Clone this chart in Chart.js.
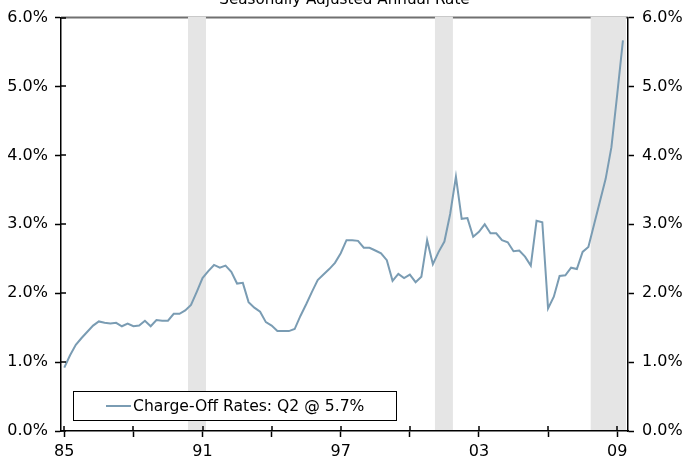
<!DOCTYPE html>
<html><head><meta charset="utf-8">
<script src="https://cdn.jsdelivr.net/npm/chart.js@4"></script>
<style>html,body{margin:0;padding:0;background:#fff;overflow:hidden}#wrap{width:683px;height:463px;position:relative}</style>
</head><body><div id="wrap"><canvas id="c" width="683" height="463"></canvas></div>
<script>
const startYear = 1985;
const quartersPerYear = 4;
const chargeOffRates = [
  0.92,1.10,1.25,1.35, 1.44,1.53,1.59,1.57, 1.56,1.57,1.52,1.56, 1.52,1.53,1.60,1.52,
  1.61,1.60,1.60,1.70, 1.70,1.75,1.83,2.02, 2.22,2.32,2.41,2.37, 2.40,2.31,2.14,2.15,
  1.87,1.79,1.73,1.58, 1.53,1.45,1.45,1.45, 1.48,1.67,1.84,2.02, 2.19,2.27,2.35,2.44,
  2.58,2.77,2.77,2.76, 2.66,2.66,2.62,2.58, 2.48,2.18,2.28,2.22, 2.27,2.16,2.24,2.77,
  2.42,2.60,2.75,3.15, 3.69,3.08,3.09,2.82, 2.89,3.00,2.87,2.87, 2.77,2.74,2.61,2.62,
  2.53,2.40,3.05,3.03, 1.78,1.95,2.25,2.26, 2.37,2.35,2.60,2.67, 3.00,3.33,3.66,4.12,
  4.88,5.67
];
const recessions = [[1990.37,1991.15],[2001.09,2001.87],[2007.85,2009.38]];
const xTickYears = [1985,1988,1991,1994,1997,2000,2003,2006,2009];
const xLabelYears = [1985,1991,1997,2003,2009];
const yTicks = [0,1,2,3,4,5,6];
const titleText = 'Seasonally Adjusted Annual Rate';
const legendText = 'Charge-Off Rates: Q2 @ 5.7%';

const lineColor = '#7a9cb3';
const FONT = '"DejaVu Sans", Verdana, sans-serif';

const points = chargeOffRates.map((v,i)=>({x: startYear + i/quartersPerYear, y: v}));

const decor = {
  id:'decor',
  beforeDatasetsDraw(chart){
    const {ctx, chartArea:a, scales:{x}} = chart;
    ctx.save();
    ctx.strokeStyle = '#707070'; ctx.lineWidth = 2;
    ctx.beginPath(); ctx.moveTo(a.left, a.top); ctx.lineTo(a.right, a.top); ctx.stroke();
    ctx.fillStyle = '#e5e5e5';
    recessions.forEach(([s,e])=>{
      const x0 = x.getPixelForValue(s), x1 = x.getPixelForValue(e);
      ctx.fillRect(x0, a.top-1, x1-x0, a.bottom - a.top);
    });
    ctx.restore();
  },
  afterDraw(chart){
    const {ctx, chartArea:a, scales:{x,y}} = chart;
    ctx.save();
    ctx.strokeStyle = '#000'; ctx.lineWidth = 1.5;
    ctx.beginPath();
    yTicks.forEach(v=>{
      const py = Math.round(y.getPixelForValue(v));
      ctx.moveTo(a.left, py); ctx.lineTo(a.left+5, py);
      ctx.moveTo(a.right, py); ctx.lineTo(a.right-1, py);
    });
    xTickYears.forEach(v=>{
      const px = Math.round(x.getPixelForValue(v));
      ctx.moveTo(px, a.bottom); ctx.lineTo(px, a.bottom-5);
    });
    ctx.stroke();
    // legend box
    const bx=73.5, by=391.5, bw=323, bh=29;
    ctx.fillStyle='#fff'; ctx.fillRect(bx,by,bw,bh);
    ctx.strokeStyle='#000'; ctx.lineWidth=1; ctx.strokeRect(bx,by,bw,bh);
    ctx.strokeStyle=lineColor; ctx.lineWidth=2;
    ctx.beginPath(); ctx.moveTo(106, by+bh/2); ctx.lineTo(131, by+bh/2); ctx.stroke();
    ctx.fillStyle='#000'; ctx.font='15.6px '+FONT; ctx.textBaseline='middle'; ctx.textAlign='left';
    ctx.fillText(legendText, 133, by+bh/2+1);
    // title (clipped at top)
    ctx.font='15.2px '+FONT;
    ctx.textAlign='center'; ctx.textBaseline='alphabetic';
    ctx.fillText(titleText, (a.left+a.right)/2, 4);
    ctx.restore();
  }
};

const axisCommon = {
  grid:{display:true, drawOnChartArea:false, drawTicks:true, tickLength:6, tickColor:'#000', tickWidth:1.5},
  border:{display:true, color:'#000', width:1.5}
};

new Chart(document.getElementById('c'), {
  type:'line',
  data:{datasets:[{label:legendText, data:points, borderColor:lineColor, borderWidth:2, pointRadius:0, tension:0, fill:false}]},
  options:{
    responsive:false, animation:false, devicePixelRatio:1,
    layout:{padding:{top:15, left:0, right:0, bottom:0}},
    plugins:{legend:{display:false}, tooltip:{enabled:false}, title:{display:false}},
    scales:{
      x:{type:'linear', position:'bottom', min:1984.857, max:2009.47,
        afterBuildTicks(s){ s.ticks = xTickYears.map(v=>({value:v})); },
        afterFit(s){ s.height = 32; },
        ticks:{autoSkip:false, maxRotation:0, padding:5, color:'#000', font:{family:FONT, size:16},
          callback:(v)=> xLabelYears.includes(v) ? String(v).slice(2) : ''},
        ...axisCommon},
      y:{position:'left', min:0, max:6,
        afterBuildTicks(s){ s.ticks = yTicks.map(v=>({value:v})); },
        afterFit(s){ s.width = 61; },
        ticks:{padding:7, color:'#000', font:{family:FONT, size:16}, callback:(v)=>v.toFixed(1)+'%'},
        ...axisCommon},
      y2:{position:'right', min:0, max:6,
        afterBuildTicks(s){ s.ticks = yTicks.map(v=>({value:v})); },
        afterFit(s){ s.width = 55; },
        ticks:{padding:8, color:'#000', font:{family:FONT, size:16}, callback:(v)=>v.toFixed(1)+'%'},
        ...axisCommon}
    }
  },
  plugins:[decor]
});
</script>
</body></html>
